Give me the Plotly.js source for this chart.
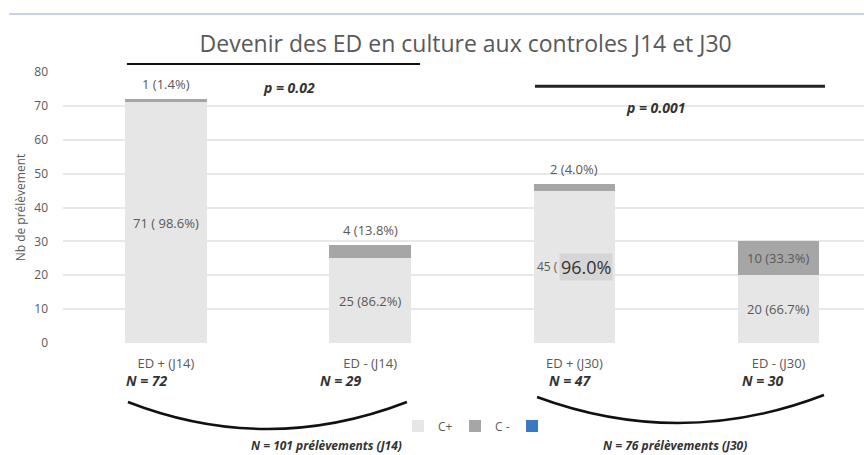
<!DOCTYPE html>
<html>
<head>
<meta charset="utf-8">
<script src="https://cdn.plot.ly/plotly-3.0.1.min.js"></script>
<style>html,body{margin:0;padding:0;background:#fff;}#chart{width:864px;height:455px;}</style>
</head>
<body>
<div id="chart"></div>
<script>
const categories = ["ED + (J14)", "ED - (J14)", "ED + (J30)", "ED - (J30)"];
const cPlus = [71, 25, 45, 20];
const cMinus = [1, 4, 2, 10];
const cPlusLabels = ["71 ( 98.6%)", "25 (86.2%)", "45 (", "20 (66.7%)"];
const cMinusLabels = ["1 (1.4%)", "4 (13.8%)", "2 (4.0%)", "10 (33.3%)"];
const nLabels = ["N = 72", "N = 29", "N = 47", "N = 30"];
const highlightLabel = "96.0%";
const pValues = ["p = 0.02", "p = 0.001"];
const totalsLabels = ["N = 101 prélèvements (J14)", "N = 76 prélèvements (J30)"];
const seriesNames = ["C+", "C -", " "];
const yTicks = [0, 10, 20, 30, 40, 50, 60, 70, 80];

const FONT = "Open Sans, Liberation Sans, sans-serif";
const grayText = "#595959";

const traces = [
  {type: "bar", name: seriesNames[0], x: categories, y: cPlus, width: 0.4,
   marker: {color: "#e6e6e6"}, hoverinfo: "skip"},
  {type: "bar", name: seriesNames[1], x: categories, y: cMinus, width: 0.4,
   marker: {color: "#a6a6a6"}, hoverinfo: "skip"},
  {type: "bar", name: seriesNames[2], x: categories, y: [0, 0, 0, 0], width: 0.4,
   marker: {color: "#3a78c2"}, hoverinfo: "skip"}
];

const annotations = [];
const nShift = [-19, -29, -4, -16];
categories.forEach((c, i) => {
  const total = cPlus[i] + cMinus[i];
  if (i === 2) {
    annotations.push({x: c, y: cPlus[i] / 2, xref: "x", yref: "y", text: cPlusLabels[i],
      showarrow: false, xanchor: "right", xshift: -14, font: {family: FONT, size: 12, color: grayText}});
    annotations.push({x: c, y: cPlus[i] / 2, xref: "x", yref: "y", text: highlightLabel,
      showarrow: false, xanchor: "left", xshift: -15, bgcolor: "#d6d6d6", borderpad: 1,
      font: {family: FONT, size: 18, color: "#333333"}});
  } else {
    annotations.push({x: c, y: cPlus[i] / 2, xref: "x", yref: "y", text: cPlusLabels[i],
      showarrow: false, font: {family: FONT, size: 13, color: grayText}});
  }
  if (i === 3) {
    annotations.push({x: c, y: cPlus[i] + cMinus[i] / 2, xref: "x", yref: "y", text: cMinusLabels[i],
      showarrow: false, font: {family: FONT, size: 13, color: grayText}});
  } else {
    annotations.push({x: c, y: total, xref: "x", yref: "y", text: cMinusLabels[i],
      showarrow: false, yanchor: "bottom", yshift: 4, font: {family: FONT, size: 13, color: grayText}});
  }
  annotations.push({x: c, y: -0.138, xref: "x", yref: "paper", yanchor: "middle",
    text: "<b><i>" + nLabels[i] + "</i></b>",
    showarrow: false, xshift: nShift[i], font: {family: FONT, size: 14, color: "#333333"}});
});
annotations.push({x: 0.602, y: 75.5, xref: "x", yref: "y", yanchor: "middle", text: "<b><i>" + pValues[0] + "</i></b>",
  showarrow: false, font: {family: FONT, size: 14, color: "#333333"}});
annotations.push({x: 2.395, y: 69.6, xref: "x", yref: "y", yanchor: "middle", text: "<b><i>" + pValues[1] + "</i></b>",
  showarrow: false, font: {family: FONT, size: 14, color: "#333333"}});
annotations.push({x: 0.784, y: -0.380, xref: "x", yref: "paper", yanchor: "middle", text: "<b><i>" + totalsLabels[0] + "</i></b>",
  showarrow: false, font: {family: FONT, size: 12, color: "#333333"}});
annotations.push({x: 2.493, y: -0.378, xref: "x", yref: "paper", yanchor: "middle", text: "<b><i>" + totalsLabels[1] + "</i></b>",
  showarrow: false, font: {family: FONT, size: 12, color: "#333333"}});

const shapes = [
  {type: "line", xref: "paper", yref: "paper", x0: -0.067, x1: 1, y0: 1.214, y1: 1.214,
   line: {color: "#c8d2e4", width: 2}},
  {type: "line", xref: "x", yref: "paper", x0: -0.191, x1: 1.244, y0: 1.0295, y1: 1.0295,
   line: {color: "#111111", width: 2}},
  {type: "line", xref: "x", yref: "y", x0: 1.807, x1: 3.227, y0: 75.8, y1: 75.8,
   line: {color: "#222222", width: 3}},
  {type: "path", xref: "x", yref: "paper", path: "M -0.186,-0.2177 Q 0.4946,-0.417 1.180,-0.2177",
   line: {color: "#111111", width: 2.5}},
  {type: "path", xref: "x", yref: "paper", path: "M 1.817,-0.1993 Q 2.520,-0.3948 3.222,-0.1919",
   line: {color: "#111111", width: 2.5}}
];

const layout = {
  width: 864, height: 455,
  margin: {l: 63, r: 0, t: 72, b: 112},
  paper_bgcolor: "#ffffff", plot_bgcolor: "#ffffff",
  barmode: "stack",
  title: {text: "Devenir des ED en culture aux controles J14 et J30", x: 0.539, xanchor: "center",
    y: 0.903, yanchor: "middle", font: {family: FONT, size: 23, color: grayText}},
  xaxis: {type: "category", range: [-0.504, 3.418], showgrid: false, zeroline: false,
    showline: false, ticks: "", ticklabelstandoff: 11,
    tickfont: {family: FONT, size: 13, color: grayText}},
  yaxis: {range: [0, 80], tickvals: yTicks, showgrid: true, gridcolor: "#e8e8e8", gridwidth: 2,
    zeroline: false, showline: false, ticks: "", ticklabelstandoff: 14,
    tickfont: {family: FONT, size: 12, color: grayText},
    title: {text: "Nb de prélèvement", standoff: 6, font: {family: FONT, size: 12, color: grayText}}},
  showlegend: true,
  legend: {orientation: "h", x: 0.525, xanchor: "center", y: -0.306, yanchor: "middle",
    bgcolor: "rgba(0,0,0,0)",
    font: {family: FONT, size: 12, color: grayText}, itemwidth: 30, entrywidth: 12,
    traceorder: "normal"},
  annotations: annotations,
  shapes: shapes
};

Plotly.newPlot("chart", traces, layout, {displayModeBar: false, staticPlot: true});
</script>
</body>
</html>
